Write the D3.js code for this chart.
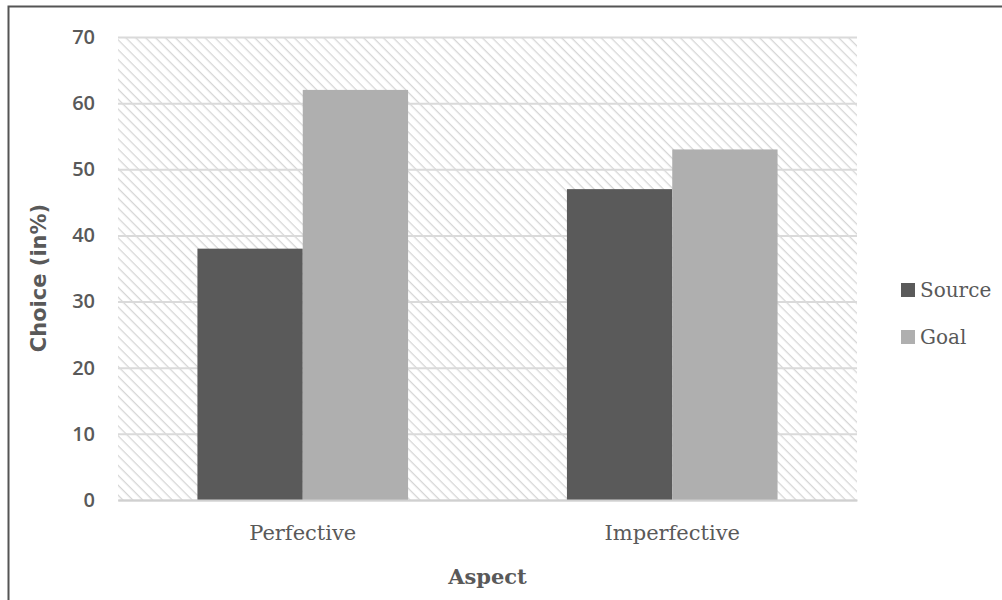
<!DOCTYPE html>
<html>
<head>
<meta charset="utf-8">
<script src="https://cdn.jsdelivr.net/npm/d3@7/dist/d3.min.js"></script>
<style>
  html, body { margin: 0; padding: 0; background: #fff; }
  svg { display: block; }
</style>
</head>
<body>
<svg id="chart" width="1002" height="600"></svg>
<script>
// Aspect categories and the two series of choice percentages
const categories = ["Perfective", "Imperfective"];
const seriesNames = ["Source", "Goal"];
const sourceValues = [38, 47];
const goalValues = [62, 53];
const yTicks = [0, 10, 20, 30, 40, 50, 60, 70];

const colors = { Source: "#5a5a5a", Goal: "#afafaf" };
const textColor = "#595959";

const svg = d3.select("#chart");
const W = 1002, H = 600;
const plot = { left: 118, right: 857, top: 37, bottom: 500 };

// outer frame
svg.append("rect")
  .attr("x", 8.5).attr("y", 6.5)
  .attr("width", W + 10).attr("height", H + 10)
  .attr("fill", "#fff").attr("stroke", "#555").attr("stroke-width", 2);

// diagonal hatch used as the plot-area fill
const defs = svg.append("defs");
const pat = defs.append("pattern")
  .attr("id", "hatch")
  .attr("patternUnits", "userSpaceOnUse")
  .attr("width", 7).attr("height", 7)
  .attr("patternTransform", "rotate(45)");
pat.append("line")
  .attr("x1", 0).attr("y1", 0).attr("x2", 7).attr("y2", 0)
  .attr("stroke", "#d6d6d6").attr("stroke-width", 2.6);

const x = d3.scaleBand()
  .domain(categories)
  .range([plot.left, plot.right])
  .paddingInner(0)
  .paddingOuter(0);

const groupWidth = x.bandwidth() * 0.57;
const xs = d3.scaleBand()
  .domain(seriesNames)
  .range([0, groupWidth])
  .padding(0);

const y = d3.scaleLinear()
  .domain([0, 70])
  .range([plot.bottom, plot.top]);

svg.append("rect")
  .attr("x", plot.left).attr("y", plot.top)
  .attr("width", plot.right - plot.left)
  .attr("height", plot.bottom - plot.top)
  .attr("fill", "url(#hatch)");

// horizontal gridlines
const yAxis = d3.axisLeft(y)
  .tickValues(yTicks)
  .tickSize(-(plot.right - plot.left))
  .tickPadding(23)
  .tickFormat(d3.format("d"));

const gy = svg.append("g")
  .attr("transform", `translate(${plot.left},0)`)
  .call(yAxis);
gy.select(".domain").remove();
gy.selectAll(".tick line")
  .attr("stroke", "#dadada").attr("stroke-width", 2);
gy.selectAll(".tick text")
  .attr("fill", textColor)
  .attr("font-family", "'Open Sans', 'DejaVu Sans', sans-serif")
  .attr("font-weight", 600)
  .attr("font-size", 20);

// bars
const rows = categories.map((c, i) => ({
  category: c,
  values: [
    { series: "Source", value: sourceValues[i] },
    { series: "Goal", value: goalValues[i] }
  ]
}));

const groups = svg.append("g").selectAll("g")
  .data(rows)
  .join("g")
  .attr("transform", d => `translate(${x(d.category) + (x.bandwidth() - groupWidth) / 2},0)`);

groups.selectAll("rect")
  .data(d => d.values)
  .join("rect")
  .attr("x", d => xs(d.series))
  .attr("y", d => y(d.value))
  .attr("width", xs.bandwidth())
  .attr("height", d => y(0) - y(d.value))
  .attr("fill", d => colors[d.series]);

// category axis
const xAxis = d3.axisBottom(x).tickSize(0).tickPadding(25);
const gx = svg.append("g")
  .attr("transform", `translate(0,${plot.bottom})`)
  .call(xAxis);
gx.select(".domain").attr("stroke", "#d0d0d0").attr("stroke-width", 2);
gx.selectAll(".tick text")
  .attr("fill", textColor)
  .attr("font-family", "'DejaVu Serif', serif")
  .attr("font-size", 21);

// axis titles
svg.append("text")
  .attr("x", (plot.left + plot.right) / 2)
  .attr("y", 584)
  .attr("text-anchor", "middle")
  .attr("fill", textColor)
  .attr("font-family", "'DejaVu Serif', serif")
  .attr("font-weight", "bold")
  .attr("font-size", 21)
  .text("Aspect");

svg.append("text")
  .attr("transform", `translate(46,278) rotate(-90)`)
  .attr("text-anchor", "middle")
  .attr("fill", textColor)
  .attr("font-family", "'DejaVu Sans', sans-serif")
  .attr("font-weight", "bold")
  .attr("font-size", 21)
  .text("Choice (in%)");

// legend
const legend = svg.append("g").attr("transform", "translate(901,283)");
const li = legend.selectAll("g")
  .data(seriesNames)
  .join("g")
  .attr("transform", (d, i) => `translate(0,${i * 47})`);
li.append("rect")
  .attr("width", 14).attr("height", 14)
  .attr("fill", d => colors[d]);
li.append("text")
  .attr("x", 19).attr("y", 14)
  .attr("fill", textColor)
  .attr("font-family", "'DejaVu Serif', serif")
  .attr("font-size", 20)
  .text(d => d);
</script>
</body>
</html>
